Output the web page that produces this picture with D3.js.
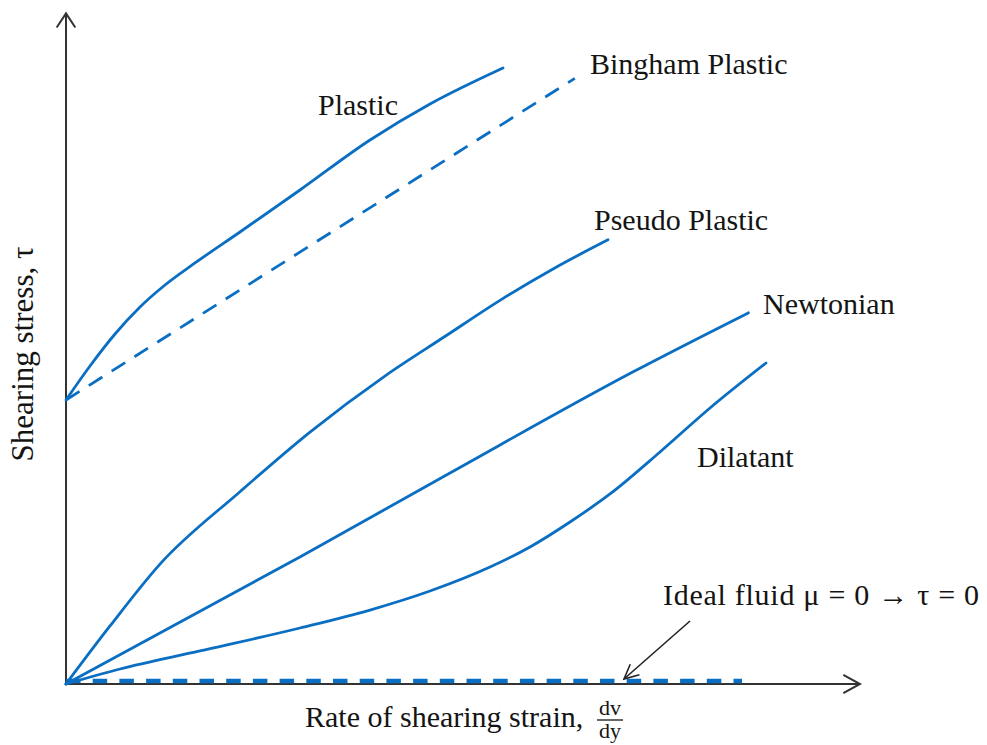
<!DOCTYPE html>
<html><head><meta charset="utf-8">
<script src="https://cdn.jsdelivr.net/npm/d3@7"></script>
<style>
body{margin:0;background:#fff}
text{font-family:"Liberation Serif","Times New Roman",serif;fill:#141414}
</style>
</head><body>
<svg id="c" width="987" height="745"></svg>
<script>
// ---- data (shear rate x, shear stress y, arbitrary units) ----
const plastic   = [[0,4.239],[0.3,4.746],[0.6125,5.224],[0.925,5.627],[1.2375,5.955],[1.6125,6.284],[2.175,6.746],[2.925,7.373],[3.8,8.119],[4.55,8.657],[5.4625,9.194]];
const bingham   = [[0,4.239],[6.36,9.04]];
const pseudo    = [[0,0],[0.55,0.866],[1.175,1.79],[2.175,2.87],[3.05,3.76],[3.99,4.6],[4.74,5.19],[5.43,5.73],[6.11,6.21],[6.775,6.63]];
const newtonian = [[0,0],[2.93,1.9],[4.8,3.15],[7.09,4.66],[8.53,5.54]];
const dilatant  = [[0,0],[0.675,0.224],[1.675,0.493],[2.925,0.836],[3.8,1.104],[4.55,1.388],[5.3,1.746],[5.8,2.045],[6.3,2.418],[6.8,2.836],[7.425,3.463],[8.05,4.119],[8.75,4.791]];
const ideal     = [[0,0],[8.45,0]];
const curveLabels = ["Plastic","Bingham Plastic","Pseudo Plastic","Newtonian","Dilatant","Ideal fluid \u03bc = 0 \u2192 \u03c4 = 0"];
const xTitle = "Rate of shearing strain, ";
const fracTop = "dv", fracBottom = "dy";
const yTitle = "Shearing stress, \u03c4";
const xAxisMax = 9.925, yAxisMax = 10.01;

// ---- scales ----
const x = d3.scaleLinear().domain([0,10]).range([66,866]);
const y = d3.scaleLinear().domain([0,10]).range([684,14]);
const svg = d3.select("#c");
const blue = "#0a6fc2", axisCol = "#333";

const smooth = d3.line().x(d=>x(d[0])).y(d=>y(d[1])).curve(d3.curveMonotoneX);
const straight = d3.line().x(d=>x(d[0])).y(d=>y(d[1]));

// axes
svg.append("line").attr("x1",x(0)).attr("y1",y(0)).attr("x2",x(0)).attr("y2",y(yAxisMax))
  .attr("stroke",axisCol).attr("stroke-width",2);
svg.append("line").attr("x1",x(0)).attr("y1",y(0)).attr("x2",x(xAxisMax)).attr("y2",y(0))
  .attr("stroke",axisCol).attr("stroke-width",2);
function chevron(tx,ty,angle,len,spread,w,col){
  const a1=angle+Math.PI-spread, a2=angle+Math.PI+spread;
  svg.append("path").attr("d",`M${tx+len*Math.cos(a1)},${ty+len*Math.sin(a1)}L${tx},${ty}L${tx+len*Math.cos(a2)},${ty+len*Math.sin(a2)}`)
    .attr("fill","none").attr("stroke",col).attr("stroke-width",w).attr("stroke-linejoin","miter");
}
chevron(x(0),y(yAxisMax),-Math.PI/2,17,0.58,2,axisCol);
chevron(x(xAxisMax),y(0),0,19,0.5,2,axisCol);

// curves
[plastic,pseudo,newtonian,dilatant].forEach(s=>{
  svg.append("path").attr("d",smooth(s)).attr("fill","none").attr("stroke",blue)
    .attr("stroke-width",2.8).attr("stroke-linecap","round");
});
svg.append("path").attr("d",straight(bingham)).attr("fill","none").attr("stroke",blue)
  .attr("stroke-width",2.8).attr("stroke-dasharray","16,11");
svg.append("path").attr("d",straight(ideal)).attr("fill","none").attr("stroke",blue)
  .attr("stroke-width",4.5).attr("stroke-dasharray","14.5,12.2").attr("transform","translate(0,-3)");

// labels
const fs = 30;
const pos = [[318,115],[590,74],[594,230],[763,314],[697,467],[663,605]];
curveLabels.forEach((t,i)=>{
  const el = svg.append("text").attr("x",pos[i][0]).attr("y",pos[i][1]).attr("font-size",fs).text(t);
  if(i===5) el.attr("textLength",316).attr("lengthAdjust","spacing");
});

// pointer arrow for ideal fluid
svg.append("line").attr("x1",690).attr("y1",621).attr("x2",624).attr("y2",679)
  .attr("stroke","#222").attr("stroke-width",1.6);
chevron(624,679,Math.atan2(679-621,624-690),16,0.45,1.6,"#222");

// axis titles
svg.append("text").attr("x",305).attr("y",727).attr("font-size",fs).text(xTitle);
svg.append("text").attr("x",610).attr("y",715).attr("font-size",22).attr("text-anchor","middle").text(fracTop);
svg.append("line").attr("x1",597).attr("x2",623).attr("y1",720).attr("y2",720).attr("stroke","#141414").attr("stroke-width",1.3);
svg.append("text").attr("x",610).attr("y",738).attr("font-size",22).attr("text-anchor","middle").text(fracBottom);
svg.append("text").attr("transform","translate(33,354) rotate(-90)").attr("font-size",31)
  .attr("text-anchor","middle").text(yTitle);
</script>
</body></html>
